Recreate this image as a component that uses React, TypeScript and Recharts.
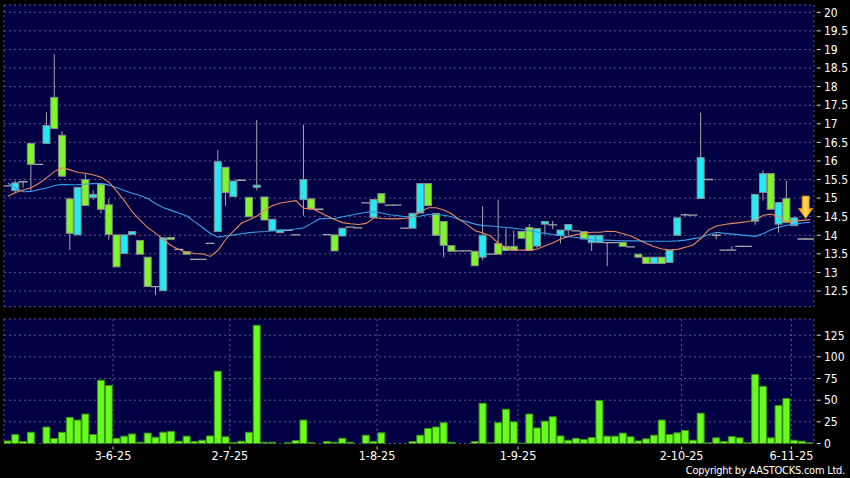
import React from "react";
import {
  ComposedChart,
  Bar,
  Line,
  XAxis,
  YAxis,
  CartesianGrid,
  ReferenceDot,
} from "recharts";

// ---------------------------------------------------------------------------
// Data (daily candles)
// ---------------------------------------------------------------------------

const OPEN = [
  15.33, 15.2, 15.44, 16.47, 15.91, 16.47, 17.71, 16.69, 14.98, 14.01,
  15.5, 15.02, 15.38, 14.82, 14.01, 13.51, 14.02, 13.86, 13.41, 12.62,
  12.51, 13.94, 13.62, 13.56, 13.35, 13.35, 13.78, 14.1, 15.83, 15.04,
  15.48, 15.02, 15.29, 15.03, 14.12, 14.07, 14.13, 14.01, 14.96, 14.98,
  14.7, 14.02, 14.01, 13.98, 14.22, 14.2, 14.87, 14.48, 15.12, 14.81,
  14.81, 14.19, 14.19, 14.6, 15.39, 14.59, 14.37, 13.72, 13.58, 13.58,
  13.57, 13.41, 13.49, 13.78, 13.7, 13.7, 14.1, 14.21, 13.71, 14.3,
  14.28, 14.0, 14.14, 14.12, 14.1, 13.8, 13.8, 13.8, 13.8, 13.81,
  13.69, 13.49, 13.41, 13.24, 13.41, 13.27, 14.0, 14.55, 14.54, 14.99,
  15.5, 14.0, 13.6, 13.6, 13.7, 13.7, 14.38, 15.15, 15.66, 14.3,
  14.99, 14.26, 13.9, 13.9,
];

const HIGH = [
  15.33, 15.47, 15.44, 16.47, 15.91, 17.31, 18.87, 16.8, 14.98, 15.29,
  15.66, 15.21, 15.38, 14.98, 14.01, 14.01, 14.1, 13.86, 13.41, 12.62,
  13.93, 13.94, 13.62, 13.56, 13.35, 13.35, 13.78, 16.29, 15.83, 15.46,
  15.48, 15.02, 17.1, 15.03, 14.43, 14.14, 14.13, 14.01, 16.98, 14.98,
  14.7, 14.02, 14.01, 14.19, 14.22, 14.2, 14.87, 14.96, 15.12, 14.81,
  14.81, 14.19, 14.59, 15.39, 15.39, 14.59, 14.37, 13.72, 13.58, 13.58,
  13.57, 14.78, 13.49, 14.96, 14.18, 14.13, 14.1, 14.3, 14.18, 14.37,
  14.39, 14.14, 14.29, 14.12, 14.1, 14.0, 14.0, 13.8, 13.8, 13.81,
  13.69, 13.49, 13.41, 13.41, 13.41, 13.6, 14.47, 14.59, 14.54, 17.3,
  15.5, 14.05, 13.6, 13.71, 13.7, 13.7, 15.1, 15.75, 15.66, 14.88,
  15.47, 14.47, 13.9, 13.9,
];

const LOW = [
  15.33, 15.13, 15.28, 15.2, 15.91, 16.47, 16.87, 15.59, 13.6, 14.01,
  14.8, 14.95, 14.59, 13.88, 13.15, 13.51, 14.02, 13.49, 12.62, 12.39,
  12.51, 13.89, 13.62, 13.49, 13.35, 13.35, 13.78, 14.1, 14.79, 15.04,
  15.48, 14.5, 15.21, 14.41, 14.12, 14.07, 14.13, 14.01, 14.53, 14.7,
  14.7, 14.02, 13.58, 13.98, 14.22, 14.2, 14.87, 14.48, 14.87, 14.81,
  14.81, 14.19, 14.19, 14.6, 14.8, 14.0, 13.41, 13.57, 13.58, 13.58,
  13.18, 13.33, 13.49, 13.49, 13.59, 13.59, 13.92, 13.59, 13.65, 14.03,
  14.16, 13.78, 14.0, 14.12, 13.9, 13.58, 13.8, 13.17, 13.8, 13.7,
  13.69, 13.41, 13.24, 13.24, 13.24, 13.27, 14.0, 14.51, 14.54, 14.99,
  15.5, 13.89, 13.6, 13.6, 13.7, 13.7, 14.28, 14.93, 14.7, 14.07,
  14.34, 14.26, 13.9, 13.9,
];

const CLOSE = [
  15.33, 15.41, 15.44, 15.91, 15.91, 16.95, 16.87, 15.59, 14.05, 15.29,
  14.8, 15.1, 14.7, 14.02, 13.15, 14.01, 14.1, 13.49, 12.62, 12.62,
  13.93, 13.89, 13.62, 13.49, 13.35, 13.35, 13.78, 15.98, 15.15, 15.46,
  15.48, 14.5, 15.35, 14.41, 14.43, 14.14, 14.13, 14.01, 15.5, 14.7,
  14.7, 14.02, 13.58, 14.19, 14.22, 14.2, 14.87, 14.96, 14.87, 14.81,
  14.81, 14.19, 14.59, 15.39, 14.8, 14.0, 13.73, 13.57, 13.58, 13.58,
  13.18, 14.0, 13.49, 13.49, 13.59, 13.59, 13.92, 13.59, 14.18, 14.37,
  14.28, 14.14, 14.29, 14.12, 13.9, 14.0, 14.0, 13.8, 13.8, 13.7,
  13.69, 13.41, 13.24, 13.41, 13.24, 13.6, 14.47, 14.55, 14.54, 16.09,
  15.5, 14.0, 13.6, 13.6, 13.7, 13.7, 15.1, 15.66, 14.7, 14.88,
  14.34, 14.47, 13.9, 13.9,
];

const VOLUME = [
  3, 10.4, 2.3, 13, 0, 19, 5.8, 13, 30, 27,
  34, 10.4, 73, 67, 6, 8.5, 11, 1.5, 12, 7.3,
  13, 14, 2.7, 8.5, 2.3, 3.8, 8.8, 83.5, 7.7, 1.2,
  2.7, 13, 136.5, 1.5, 1.5, 0, 1, 3.5, 27, 1,
  0, 2.3, 1.5, 6, 1.5, 0, 9.6, 2.3, 12.3, 0,
  0, 0, 2.3, 9.6, 17.3, 19, 24, 1.5, 0, 0,
  2.3, 46.5, 0.8, 24, 39.6, 25, 0.4, 34, 18, 25.8,
  30.8, 8.8, 3.8, 6, 4.6, 7, 49.6, 8.5, 8.5, 12,
  7.7, 3, 5.4, 9.6, 27, 10.4, 12.3, 15, 3.8, 35,
  0.8, 6.5, 2.3, 8, 6.5, 0.8, 79.6, 66, 6.5, 44,
  52, 3.8, 2.7, 0.8,
];

// moving averages as drawn (orange = short, blue = long)
const MA_SHORT = [
  15.05, 15.15, 15.22, 15.28, 15.4, 15.55, 15.72, 15.82, 15.76, 15.69,
  15.67, 15.62, 15.56, 15.42, 15.18, 14.92, 14.62, 14.4, 14.2, 14.05,
  13.88, 13.72, 13.61, 13.54, 13.51, 13.5, 13.43, 13.6, 13.9, 14.12,
  14.33, 14.42, 14.52, 14.68, 14.8, 14.87, 14.9, 14.93, 14.72, 14.73,
  14.62, 14.52, 14.42, 14.34, 14.31, 14.29, 14.32, 14.47, 14.45, 14.44,
  14.44, 14.46, 14.5, 14.64, 14.74, 14.74, 14.68, 14.57, 14.42, 14.28,
  14.12, 14.06, 13.98, 13.78, 13.66, 13.61, 13.6, 13.6, 13.63, 13.72,
  13.8, 13.9, 13.97, 14.02, 14.05, 14.08, 14.08, 14.11, 14.1, 14.04,
  13.98, 13.88, 13.78, 13.69, 13.63, 13.6, 13.62, 13.68, 13.74, 13.92,
  14.15, 14.25, 14.29, 14.32, 14.34, 14.37, 14.41, 14.54, 14.57, 14.5,
  14.36, 14.38, 14.4, 14.42,
];

const MA_LONG = [
  15.4, 15.27, 15.17, 15.18, 15.23, 15.27, 15.34, 15.37, 15.36, 15.36,
  15.38, 15.39, 15.39, 15.35, 15.28, 15.2, 15.13, 15.07, 14.98, 14.85,
  14.74, 14.67, 14.59, 14.52, 14.36, 14.21, 14.05, 13.95, 13.98, 14.01,
  14.04, 14.07, 14.09, 14.1, 14.12, 14.14, 14.15, 14.17, 14.2, 14.32,
  14.44, 14.45, 14.45, 14.5, 14.54, 14.58, 14.62, 14.63, 14.6, 14.55,
  14.53, 14.5, 14.5, 14.52, 14.56, 14.56, 14.54, 14.5, 14.42, 14.36,
  14.3, 14.26, 14.25, 14.23, 14.21, 14.19, 14.16, 14.12, 14.08, 14.05,
  14.02, 13.99, 13.96, 13.94, 13.91, 13.88, 13.87, 13.87, 13.86, 13.85,
  13.85, 13.85, 13.84, 13.84, 13.84, 13.84, 13.85, 13.87, 13.91, 13.94,
  14.02, 14.08, 14.05, 14.03, 14.01, 13.99, 13.97, 14.05, 14.15, 14.22,
  14.27, 14.3, 14.33, 14.35,
];

const DATE_LABELS = ["3-6-25", "2-7-25", "1-8-25", "1-9-25", "2-10-25", "6-11-25"];
const DATE_POS = [13.5, 28.5, 47.4, 65.5, 86.5, 100.6];

const PRICE_TICKS = [12.5, 13, 13.5, 14, 14.5, 15, 15.5, 16, 16.5, 17, 17.5, 18, 18.5, 19, 19.5, 20];
const VOLUME_TICKS = [0, 25, 50, 75, 100, 125];

// ---------------------------------------------------------------------------
// Styling
// ---------------------------------------------------------------------------

const FONT = "'DejaVu Sans Condensed', 'DejaVu Sans', sans-serif";
const PLOT_BG = "#000042";
const GRID = "#5a5a8e";
const UP = "#22eaf6";
const DOWN = "#7ef52c";
const WICK = "#a8a8a8";

const priceRows = OPEN.map((o, i) => ({
  i,
  open: o,
  high: HIGH[i],
  low: LOW[i],
  close: CLOSE[i],
  maS: MA_SHORT[i],
  maL: MA_LONG[i],
}));

const volumeRows = VOLUME.map((v, i) => ({ i, v }));

// ---------------------------------------------------------------------------
// Shapes
// ---------------------------------------------------------------------------

function Candle(props: any) {
  const { x, y, width, height, payload } = props;
  if (x == null || y == null || !payload) return null;
  const top = Math.min(y, y + (height || 0));
  const h = Math.abs(height || 0);
  const { open, high, low, close } = payload;
  const k = high > low ? h / (high - low) : 0;
  const yO = top + (high - open) * k;
  const yC = top + (high - close) * k;
  const cx = x + width / 2;

  if (open === close) {
    return (
      <g>
        {h > 0 && <line x1={cx} x2={cx} y1={top} y2={top + h} stroke={WICK} strokeWidth={1} />}
        <line x1={cx - 4.5} x2={cx + 4.5} y1={yO} y2={yO} stroke={WICK} strokeWidth={1.3} />
      </g>
    );
  }

  const bodyTop = Math.min(yO, yC);
  const bodyH = Math.max(Math.abs(yO - yC), 1);
  return (
    <g>
      <line x1={cx} x2={cx} y1={top} y2={top + h} stroke={WICK} strokeWidth={1} />
      <rect
        x={x}
        y={bodyTop}
        width={width}
        height={bodyH}
        fill={close > open ? UP : DOWN}
        stroke="#8c8c8c"
        strokeWidth={1}
      />
    </g>
  );
}

function Arrow(props: any) {
  const { cx, cy } = props;
  if (cx == null || cy == null) return null;
  const d = [
    `M${cx - 3.6},${cy - 11}`,
    `L${cx + 3.6},${cy - 11}`,
    `L${cx + 3.6},${cy + 1.3}`,
    `L${cx + 7.5},${cy + 1.3}`,
    `L${cx},${cy + 11.5}`,
    `L${cx - 7.5},${cy + 1.3}`,
    `L${cx - 3.6},${cy + 1.3}`,
    "Z",
  ].join(" ");
  return (
    <g>
      <defs>
        <linearGradient id="arrowFill" x1="0" x2="1" y1="0" y2="0">
          <stop offset="0%" stopColor="#e8940c" />
          <stop offset="50%" stopColor="#ffd85a" />
          <stop offset="100%" stopColor="#e8940c" />
        </linearGradient>
      </defs>
      <path d={d} fill="url(#arrowFill)" stroke="#c07a08" strokeWidth={0.8} />
    </g>
  );
}

function RightTick(props: any) {
  const { x, y, payload } = props;
  return (
    <g>
      <line x1={x + 2.7} x2={x + 6.7} y1={y} y2={y} stroke="#d8d8d8" strokeWidth={1} />
      <text x={x + 10} y={y + 4.3} fill="#ffffff" fontSize={12} fontFamily={FONT}>
        {String(payload.value)}
      </text>
    </g>
  );
}

function DateTick(props: any) {
  const { x, y, payload } = props;
  const idx = DATE_POS.indexOf(payload.value);
  return (
    <g>
      <line x1={x} x2={x} y1={y + 3} y2={y + 6} stroke="#cfcfcf" strokeWidth={1} />
      <text x={x} y={y + 16.6} textAnchor="middle" fill="#ffffff" fontSize={12.5} fontFamily={FONT}>
        {idx >= 0 ? DATE_LABELS[idx] : ""}
      </text>
    </g>
  );
}

// ---------------------------------------------------------------------------
// Component
// ---------------------------------------------------------------------------

export default function App() {
  return (
    <div
      style={{
        position: "absolute",
        left: 0,
        top: 0,
        width: 850,
        height: 478,
        background: "#000",
        overflow: "hidden",
      }}
    >
      <ComposedChart
        width={850}
        height={310}
        data={priceRows}
        margin={{ top: 5, right: 0, bottom: 3.3, left: 4 }}
      >
        <CartesianGrid stroke={GRID} strokeDasharray="2 3" fill={PLOT_BG} />
        <XAxis
          dataKey="i"
          type="number"
          domain={[-0.5, 103.5]}
          ticks={DATE_POS}
          allowDataOverflow
          tick={false}
          tickLine={false}
          axisLine={false}
          height={0}
        />
        <YAxis
          orientation="right"
          type="number"
          width={36}
          domain={[12.078, 20.196]}
          ticks={PRICE_TICKS}
          allowDataOverflow
          interval={0}
          axisLine={false}
          tickLine={false}
          tickSize={0}
          tickMargin={0}
          tick={<RightTick />}
        />
        <Bar
          dataKey={(d: any) => [d.low, d.high]}
          barSize={7}
          shape={<Candle />}
          isAnimationActive={false}
        />
        <Line
          type="linear"
          dataKey="maL"
          stroke="#3a9fe6"
          strokeWidth={1.1}
          dot={false}
          activeDot={false}
          isAnimationActive={false}
        />
        <Line
          type="linear"
          dataKey="maS"
          stroke="#e8895c"
          strokeWidth={1.1}
          dot={false}
          activeDot={false}
          isAnimationActive={false}
        />
        <ReferenceDot x={102.43} y={14.76} r={0} shape={<Arrow />} ifOverflow="visible" />
      </ComposedChart>

      <ComposedChart
        width={850}
        height={168}
        data={volumeRows}
        margin={{ top: 9, right: 0, bottom: 14.5, left: 4 }}
      >
        <CartesianGrid stroke={GRID} strokeDasharray="2 3" fill={PLOT_BG} />
        <XAxis
          dataKey="i"
          type="number"
          domain={[-0.5, 103.5]}
          ticks={DATE_POS}
          allowDataOverflow
          interval={0}
          height={20}
          axisLine={false}
          tickLine={false}
          tickSize={0}
          tickMargin={0}
          tick={<DateTick />}
        />
        <YAxis
          orientation="right"
          type="number"
          width={36}
          domain={[0, 143.7]}
          ticks={VOLUME_TICKS}
          allowDataOverflow
          interval={0}
          axisLine={false}
          tickLine={false}
          tickSize={0}
          tickMargin={0}
          tick={<RightTick />}
        />
        <Bar
          dataKey="v"
          barSize={7}
          fill="#68fb1e"
          stroke="#3d8f16"
          strokeWidth={1}
          isAnimationActive={false}
        />
      </ComposedChart>

      <div
        style={{
          position: "absolute",
          right: 5,
          top: 465,
          fontFamily: FONT,
          fontSize: 11,
          lineHeight: "11px",
          letterSpacing: "-0.25px",
          color: "#fff",
          whiteSpace: "nowrap",
        }}
      >
        Copyright by AASTOCKS.com Ltd.
      </div>
    </div>
  );
}
